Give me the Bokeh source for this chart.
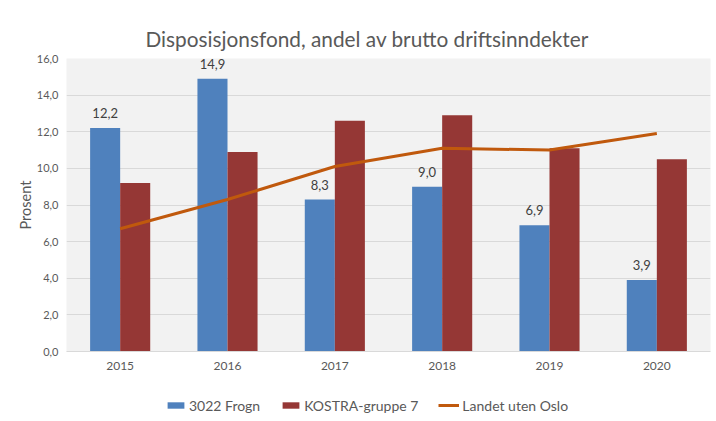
from bokeh.plotting import figure
from bokeh.layouts import column
from bokeh.models import (FactorRange, Range1d, ColumnDataSource, CustomJSTickFormatter,
                          Legend, LegendItem, FixedTicker)
from bokeh.transform import dodge
from bokeh.core.properties import value
from bokeh.embed import file_html
from bokeh.resources import INLINE

# ---- data ----
years = ["2015", "2016", "2017", "2018", "2019", "2020"]
frogn = [12.2, 14.9, 8.3, 9.0, 6.9, 3.9]
kostra = [9.2, 10.9, 12.6, 12.9, 11.1, 10.5]
landet = [6.7, 8.3, 10.1, 11.1, 11.0, 11.9]
y_ticks = [0, 2, 4, 6, 8, 10, 12, 14, 16]
series_names = ["3022 Frogn", "KOSTRA-gruppe 7", "Landet uten Oslo"]
title_text = "Disposisjonsfond, andel av brutto driftsinndekter"
y_label = "Prosent"

FONT = "Lato"
BLUE = "#4F81BD"
RED = "#953735"
ORANGE = "#C0590D"
TXT = "#595959"

src = ColumnDataSource(dict(
    year=years, frogn=frogn, kostra=kostra, landet=landet,
    lbl=[f"{v:.1f}".replace(".", ",") for v in frogn],
))

p = figure(x_range=FactorRange(*years), y_range=Range1d(0, 16),
           width=712, height=382, output_backend="svg", toolbar_location=None,
           min_border_left=66, min_border_right=2, min_border_top=58,
           min_border_bottom=31)

p.title.text = title_text
p.title.text_font = FONT
p.title.text_font_size = "20.8px"
p.title.text_font_style = "normal"
p.title.text_color = TXT
p.title.align = "left"
p.title.offset = 79
p.title.standoff = 15

p.background_fill_color = "#F2F2F2"
p.border_fill_color = "white"
p.outline_line_color = None

r1 = p.vbar(x=dodge("year", -0.14, range=p.x_range), top="frogn", width=0.28,
            source=src, fill_color=BLUE, line_color=None)
r2 = p.vbar(x=dodge("year", 0.14, range=p.x_range), top="kostra", width=0.28,
            source=src, fill_color=RED, line_color=None)
r3 = p.line(x="year", y="landet", source=src, line_color=ORANGE, line_width=3)

p.text(x=dodge("year", -0.14, range=p.x_range), y="frogn", text="lbl", source=src,
       text_align="center", text_baseline="alphabetic", y_offset=-15,
       text_font=value(FONT), text_font_size="13px", text_color="#404040")

# axes
p.yaxis.ticker = FixedTicker(ticks=y_ticks)
p.yaxis.formatter = CustomJSTickFormatter(code="return tick.toFixed(1).replace('.', ',');")
p.yaxis.axis_line_color = None
p.yaxis.major_tick_line_color = None
p.yaxis.minor_tick_line_color = None
p.yaxis.major_tick_out = 0
p.yaxis.major_tick_in = 0
p.yaxis.major_label_text_font = FONT
p.yaxis.major_label_text_font_size = "11px"
p.yaxis.major_label_text_color = TXT
p.yaxis.major_label_standoff = 8
p.yaxis.axis_label = y_label
p.yaxis.axis_label_text_font = FONT
p.yaxis.axis_label_text_font_size = "14.5px"
p.yaxis.axis_label_text_font_style = "normal"
p.yaxis.axis_label_text_color = TXT
p.yaxis.axis_label_standoff = 0

p.xaxis.axis_line_color = "#D9D9D9"
p.xaxis.major_tick_line_color = None
p.xaxis.minor_tick_line_color = None
p.xaxis.major_tick_out = 0
p.xaxis.major_tick_in = 0
p.xaxis.major_label_text_font = FONT
p.xaxis.major_label_text_font_size = "12px"
p.xaxis.major_label_text_color = TXT
p.xaxis.major_label_standoff = 10

p.xgrid.grid_line_color = None
p.ygrid.grid_line_color = "#D9D9D9"
p.ygrid.grid_line_width = 1

# ---- legend strip below the chart (swatch renderers carry no visible mark) ----
lf = figure(width=712, height=32, output_backend="svg", toolbar_location=None,
            x_range=Range1d(0, 1), y_range=Range1d(0, 1),
            x_axis_type=None, y_axis_type=None,
            min_border_left=66, min_border_right=2, min_border_top=0, min_border_bottom=0)
lf.outline_line_color = None
lf.background_fill_color = "white"
lf.border_fill_color = "white"
lf.grid.visible = False
sw = ColumnDataSource(dict(x=[0.5], y=[0.0]))
l1 = lf.vbar(x="x", top="y", width=0, source=sw, fill_color=BLUE, line_color=None)
l2 = lf.vbar(x="x", top="y", width=0, source=sw, fill_color=RED, line_color=None)
l3 = lf.line(x="x", y="y", source=sw, line_color=ORANGE, line_width=3)

legend = Legend(items=[LegendItem(label=series_names[0], renderers=[l1]),
                       LegendItem(label=series_names[1], renderers=[l2]),
                       LegendItem(label=series_names[2], renderers=[l3])],
                orientation="horizontal", location=(99, 0),
                padding=0, margin=0, spacing=20, label_standoff=3,
                glyph_width=21, glyph_height=8, label_height=18,
                label_text_font=FONT, label_text_font_size="14px",
                label_text_color=TXT, border_line_color=None,
                background_fill_alpha=0)
lf.add_layout(legend, "center")

layout = column(p, lf, spacing=0)
open("out.html", "w").write(file_html(layout, INLINE))
